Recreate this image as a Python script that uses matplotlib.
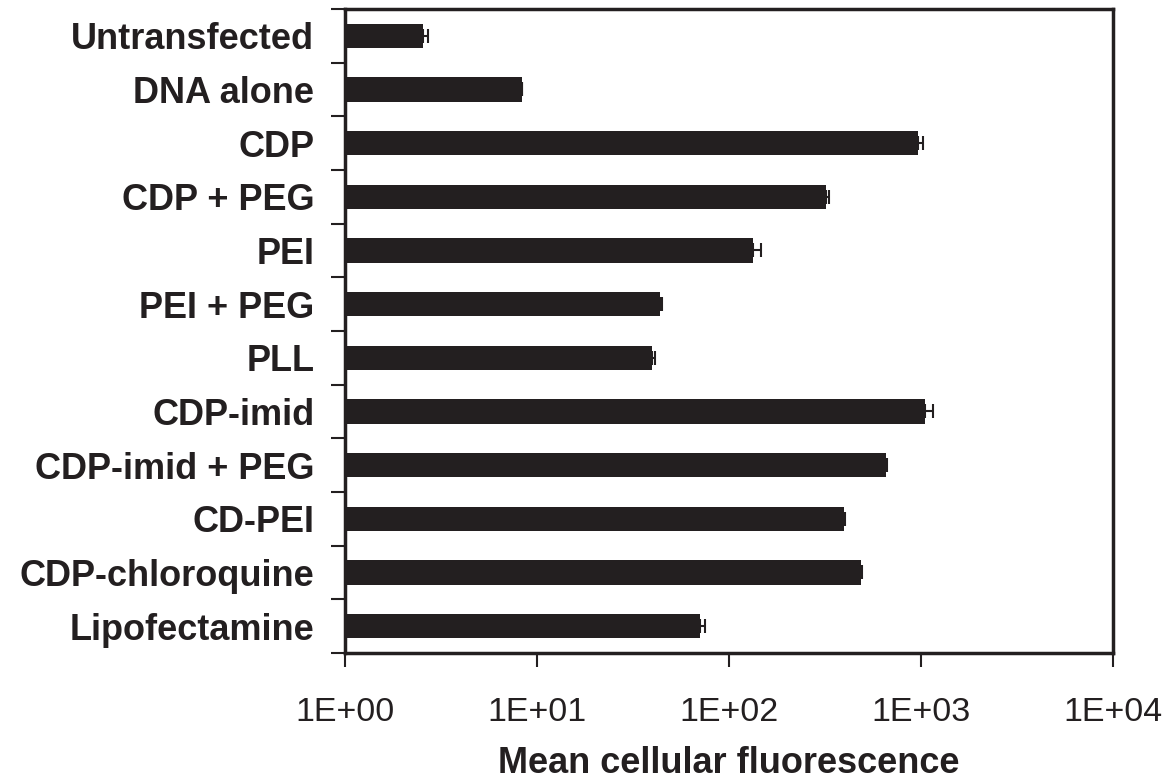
import numpy as np
import matplotlib.pyplot as plt

plt.rcParams['font.family'] = ['Liberation Sans', 'DejaVu Sans']

# Transfection results (mean cellular fluorescence, log scale)
labels = ['Untransfected', 'DNA alone', 'CDP', 'CDP + PEG', 'PEI', 'PEI + PEG',
          'PLL', 'CDP-imid', 'CDP-imid + PEG', 'CD-PEI', 'CDP-chloroquine',
          'Lipofectamine']
means = [2.54, 8.33, 962, 321, 134, 43.8, 39.8, 1055, 659, 398, 488, 70.5]
errors = [0.17, 0, 60, 11, 12, 1, 1.6, 96, 10, 5, 8, 4.7]

bar_color = '#231f20'

fig = plt.figure(figsize=(11.73, 7.82), dpi=100)
ax = fig.add_axes([0.2941, 0.165, 0.6547, 0.8235])

y = np.arange(len(labels))
ax.barh(y, means, height=0.45, left=0, color=bar_color,
        xerr=[np.zeros(len(errors)), errors],
        error_kw=dict(ecolor=bar_color, elinewidth=1.5, capsize=5, capthick=1.5))

ax.set_xscale('log')
ax.set_xlim(1, 1e4)
ax.set_ylim(len(labels) - 0.5, -0.5)

ax.set_xticks([1, 10, 100, 1000, 10000])
ax.set_xticklabels(['1E+00', '1E+01', '1E+02', '1E+03', '1E+04'])
ax.xaxis.set_minor_locator(plt.NullLocator())

# category separators as major ticks, names on minor ticks
ax.set_yticks(np.arange(len(labels) + 1) - 0.5)
ax.set_yticklabels([])
ax.set_yticks(y, minor=True)
ax.set_yticklabels(labels, minor=True, fontsize=26, fontweight='bold', color='#231f20')
ax.tick_params(axis='y', which='minor', length=0, pad=22)
ax.tick_params(axis='y', which='major', length=10, width=1.5, color='#231f20')
ax.tick_params(axis='x', which='major', length=10, width=1.5, color='#231f20',
               labelsize=24.5, pad=22, labelcolor='#231f20')

for s in ax.spines.values():
    s.set_linewidth(2.5)
    s.set_color('#231f20')

ax.set_xlabel('Mean cellular fluorescence', fontsize=26, fontweight='bold',
              color='#231f20', labelpad=13)

fig.savefig('out.png', dpi=100)
